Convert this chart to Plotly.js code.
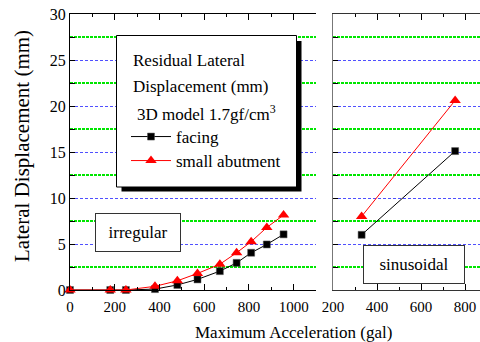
<!DOCTYPE html>
<html>
<head>
<meta charset="utf-8">
<script src="https://cdn.plot.ly/plotly-3.0.1.min.js"></script>
<style>html,body{margin:0;padding:0;background:#fff;}#chart{width:480px;height:342px;}</style>
</head>
<body>
<div id="chart"></div>
<script>
// Irregular excitation (left panel)
const irrAccel = [0, 180, 250, 380, 480, 570, 670, 745, 810, 880, 955];
const irrFacing = [0, 0, 0, 0.1, 0.55, 1.15, 2.05, 2.95, 4.05, 4.95, 6.05];
const irrAbutment = [0, 0, 0, 0.4, 1.0, 1.8, 2.8, 4.05, 5.25, 6.8, 8.15];
// Sinusoidal excitation (right panel)
const sinAccel = [330, 755];
const sinFacing = [6.0, 15.1];
const sinAbutment = [8.0, 20.6];
// Tick labels
const yTicks = [0, 5, 10, 15, 20, 25, 30];
const xTicksLeft = [0, 200, 400, 600, 800, 1000];
const xTicksRight = [200, 400, 600, 800];
const seriesNames = ['facing', 'small abutment'];

const W = 480, H = 342;
const px = v => v / W;
const py = v => 1 - v / H;
const FONT = '"Liberation Serif", "Times New Roman", serif';

const facingStyle = {mode: 'lines+markers', line: {color: 'black', width: 1},
  marker: {symbol: 'square', size: 7, color: 'black', line: {color: '#555', width: 0.5}}, cliponaxis: false};
const abutStyle = {mode: 'lines+markers', line: {color: 'red', width: 1},
  marker: {symbol: 'triangle-up', size: 10, color: 'red'}, cliponaxis: false};

const traces = [
  Object.assign({x: irrAccel, y: irrFacing, name: seriesNames[0], xaxis: 'x', yaxis: 'y', legend: 'legend'}, facingStyle),
  Object.assign({x: irrAccel, y: irrAbutment, name: seriesNames[1], xaxis: 'x', yaxis: 'y', legend: 'legend2'}, abutStyle),
  Object.assign({x: sinAccel, y: sinFacing, name: seriesNames[0], xaxis: 'x2', yaxis: 'y2', showlegend: false}, facingStyle),
  Object.assign({x: sinAccel, y: sinAbutment, name: seriesNames[1], xaxis: 'x2', yaxis: 'y2', showlegend: false}, abutStyle)
];

const GREEN = 'rgb(0,230,0)', BLUE = 'rgb(80,80,255)';
function yAxis(extra) {
  return Object.assign({
    range: [0, 30], tickmode: 'linear', tick0: yTicks[0], dtick: yTicks[1] - yTicks[0],
    showgrid: true, gridcolor: BLUE, griddash: '3px,2px', gridwidth: 1,
    zeroline: false, showline: true, ticks: 'inside', ticklen: 5, tickcolor: 'black',
    minor: {tickmode: 'linear', dtick: 2.5, tick0: 0, showgrid: true, gridcolor: GREEN, griddash: '3px,1px', gridwidth: 1.2,
            ticks: 'inside', ticklen: 5, tickcolor: 'black'},
    tickfont: {family: FONT, size: 16, color: 'black'}, automargin: false, fixedrange: true
  }, extra);
}

const layout = {
  width: W, height: H,
  margin: {l: 0, r: 0, t: 0, b: 0},
  paper_bgcolor: 'white', plot_bgcolor: 'white',
  font: {family: FONT, color: 'black'},
  xaxis: {
    domain: [px(70), px(316)], range: [0, 1100], tickvals: xTicksLeft,
    showgrid: false, zeroline: false, showline: true, linecolor: 'black', linewidth: 1, mirror: 'allticks',
    ticks: 'inside', ticklen: 6, tickcolor: 'black',
    minor: {dtick: 100, tick0: 0, ticks: 'inside', ticklen: 3, tickcolor: 'black'},
    tickfont: {family: FONT, size: 15, color: 'black'}, ticklabelstandoff: 3, automargin: false, anchor: 'y'
  },
  yaxis: yAxis({domain: [py(290), py(14)], linecolor: 'black', linewidth: 1, mirror: false, anchor: 'x'}),
  xaxis2: {
    domain: [px(333), 1], range: [200, 868], tickvals: xTicksRight,
    showgrid: false, zeroline: false, showline: true, linecolor: '#333', linewidth: 1, mirror: 'allticks',
    ticks: 'inside', ticklen: 6, tickcolor: 'black',
    minor: {dtick: 100, tick0: 0, ticks: 'inside', ticklen: 3, tickcolor: 'black'},
    tickfont: {family: FONT, size: 15, color: 'black'}, ticklabelstandoff: 3, automargin: false, anchor: 'y2'
  },
  yaxis2: yAxis({domain: [py(290), py(14)], linecolor: '#777', linewidth: 1.5, mirror: false,
    showticklabels: false, anchor: 'x2'}),
  shapes: [
    {type: 'rect', xref: 'paper', yref: 'paper', x0: px(121.5), x1: px(301.5), y0: py(191.5), y1: py(41),
     fillcolor: 'black', line: {width: 0}, layer: 'above'},
    {type: 'rect', xref: 'paper', yref: 'paper', x0: px(116.5), x1: px(296.5), y0: py(187), y1: py(35.5),
     fillcolor: 'white', line: {color: 'black', width: 1}, layer: 'above'}
  ],
  annotations: [
    {text: 'Residual Lateral', xref: 'paper', yref: 'paper', x: px(131), y: py(61), xanchor: 'left', yanchor: 'middle',
     showarrow: false, font: {family: FONT, size: 17, color: 'black'}},
    {text: 'Displacement (mm)', xref: 'paper', yref: 'paper', x: px(131), y: py(86), xanchor: 'left', yanchor: 'middle',
     showarrow: false, font: {family: FONT, size: 17, color: 'black'}},
    {text: '3D model 1.7gf/cm<sup>3</sup>', xref: 'paper', yref: 'paper', x: px(135), y: py(113), xanchor: 'left', yanchor: 'middle',
     showarrow: false, font: {family: FONT, size: 17, color: 'black'}},
    {text: 'irregular', xref: 'paper', yref: 'paper', x: px(137.5), y: py(232), xanchor: 'center', yanchor: 'middle',
     showarrow: false, font: {family: FONT, size: 17, color: 'black'}, bgcolor: 'white', bordercolor: '#333', borderwidth: 1,
     width: 82, height: 35, borderpad: 1},
    {text: 'sinusoidal', xref: 'paper', yref: 'paper', x: px(414), y: py(264.5), xanchor: 'center', yanchor: 'middle',
     showarrow: false, font: {family: FONT, size: 17, color: 'black'}, bgcolor: 'white', bordercolor: '#333', borderwidth: 1,
     width: 98, height: 35, borderpad: 1},
    {text: 'Maximum Acceleration (gal)', xref: 'paper', yref: 'paper', x: px(293), y: py(332), xanchor: 'center', yanchor: 'middle',
     showarrow: false, font: {family: FONT, size: 17, color: 'black'}},
    {text: 'Lateral Displacement (mm)', xref: 'paper', yref: 'paper', x: px(22), y: py(146), xanchor: 'center', yanchor: 'middle',
     textangle: -90, showarrow: false, font: {family: FONT, size: 21, color: 'black'}}
  ],
  legend: {x: px(126), y: py(137), xanchor: 'left', yanchor: 'middle', bgcolor: 'rgba(0,0,0,0)', borderwidth: 0,
    itemwidth: 40, font: {family: FONT, size: 17, color: 'black'}},
  legend2: {x: px(126), y: py(161), xanchor: 'left', yanchor: 'middle', bgcolor: 'rgba(0,0,0,0)', borderwidth: 0,
    itemwidth: 40, font: {family: FONT, size: 17, color: 'black'}},
  showlegend: true
};

Plotly.newPlot('chart', traces, layout, {displayModeBar: false, staticPlot: true});
</script>
</body>
</html>
